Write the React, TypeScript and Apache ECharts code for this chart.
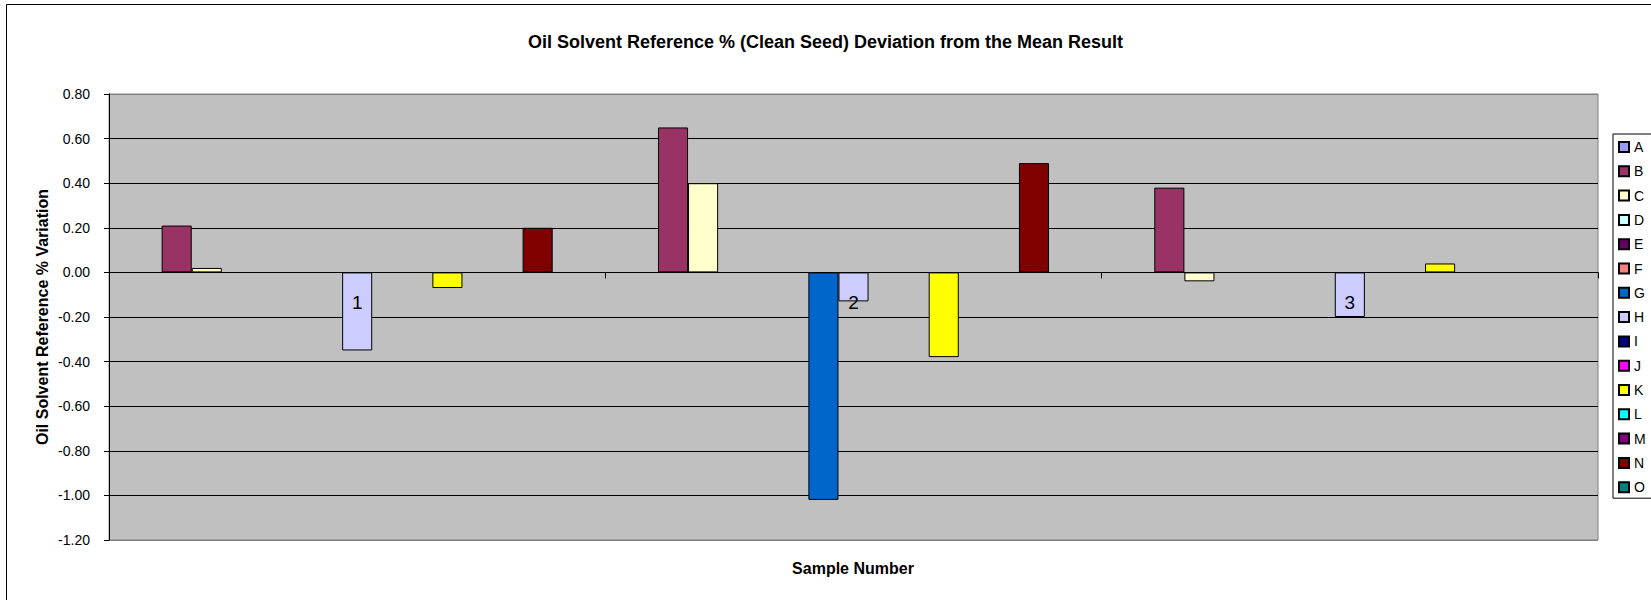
import React, { useEffect, useRef } from 'react';
import * as echarts from 'echarts';

const FONT = '"Liberation Sans", Arial, Helvetica, sans-serif';

const TITLE = 'Oil Solvent Reference % (Clean Seed) Deviation from the Mean Result';
const Y_TITLE = 'Oil Solvent Reference % Variation';
const X_TITLE = 'Sample Number';

const categories = ['1', '2', '3'];

const seriesNames = ['A', 'B', 'C', 'D', 'E', 'F', 'G', 'H', 'I', 'J', 'K', 'L', 'M', 'N', 'O'];
const seriesColors = [
  '#9999FF', '#993366', '#FFFFCC', '#CCFFFF', '#660066', '#FF8080', '#0066CC', '#CCCCFF',
  '#000080', '#FF00FF', '#FFFF00', '#00FFFF', '#800080', '#800000', '#008080',
];

const A: (number | null)[] = [null, null, null];
const B: (number | null)[] = [0.21, 0.65, 0.38];
const C: (number | null)[] = [0.02, 0.40, -0.04];
const D: (number | null)[] = [null, null, null];
const E: (number | null)[] = [null, null, null];
const F: (number | null)[] = [null, null, null];
const G: (number | null)[] = [null, -1.02, null];
const H: (number | null)[] = [-0.35, -0.13, -0.20];
const I: (number | null)[] = [null, null, null];
const J: (number | null)[] = [null, null, null];
const K: (number | null)[] = [-0.07, -0.38, 0.04];
const L: (number | null)[] = [null, null, null];
const M: (number | null)[] = [null, null, null];
const N: (number | null)[] = [0.20, 0.49, null];
const O: (number | null)[] = [null, null, null];

const seriesValues = [A, B, C, D, E, F, G, H, I, J, K, L, M, N, O];

const Y_MIN = -1.2;
const Y_MAX = 0.8;
const Y_STEP = 0.2;

export default function App() {
  const ref = useRef<HTMLDivElement>(null);

  useEffect(() => {
    document.body.style.margin = '0';
    const chart = echarts.init(ref.current!, null, { renderer: 'svg' });

    const splitColors = ['#808080', '#000', '#000', '#000', '#000', '#000', '#000', '#000', '#000', '#000', '#808080'];

    const baseGraphics: any[] = [
      {
        type: 'rect',
        silent: true,
        shape: { x: 6.5, y: 4.5, width: 1700, height: 700 },
        style: { fill: 'none', stroke: '#000', lineWidth: 1 },
      },
      {
        type: 'text',
        silent: true,
        x: 42,
        y: 317,
        rotation: Math.PI / 2,
        style: {
          text: Y_TITLE,
          font: `bold 16px ${FONT}`,
          fill: '#000',
          textAlign: 'center',
          textVerticalAlign: 'middle',
          align: 'center',
          verticalAlign: 'middle',
        },
      },
      {
        type: 'text',
        silent: true,
        x: 853,
        y: 568,
        style: {
          text: X_TITLE,
          font: `bold 16px ${FONT}`,
          fill: '#000',
          textAlign: 'center',
          textVerticalAlign: 'middle',
          align: 'center',
          verticalAlign: 'middle',
        },
      },
    ];

    chart.setOption({
      animation: false,
      backgroundColor: '#ffffff',
      textStyle: { fontFamily: FONT },
      title: {
        text: TITLE,
        left: 'center',
        top: 33,
        padding: 0,
        textStyle: { fontSize: 18, fontWeight: 'bold', color: '#000', fontFamily: FONT },
      },
      grid: {
        left: 109,
        top: 94,
        width: 1489,
        height: 446,
        show: true,
        backgroundColor: '#C0C0C0',
        borderColor: '#808080',
        borderWidth: 1,
        containLabel: false,
      },
      legend: {
        orient: 'vertical',
        left: 1613,
        top: 134,
        padding: [6, 6, 4, 5],
        itemWidth: 10,
        itemHeight: 10,
        itemGap: 10.3,
        icon: 'rect',
        borderColor: '#000',
        borderWidth: 1,
        borderRadius: 0,
        backgroundColor: '#ffffff',
        selectedMode: false,
        textStyle: { fontSize: 14, color: '#000', fontFamily: FONT },
        data: seriesNames,
      },
      xAxis: {
        type: 'category',
        data: categories,
        z: 10,
        axisLine: { show: true, onZero: true, lineStyle: { color: '#000', width: 1 } },
        axisTick: { show: true, length: 6, lineStyle: { color: '#000', width: 1 } },
        axisLabel: { show: false },
        splitLine: { show: false },
      },
      yAxis: {
        type: 'value',
        min: Y_MIN,
        max: Y_MAX,
        interval: Y_STEP,
        axisLine: { show: true, lineStyle: { color: '#000', width: 1 } },
        axisTick: { show: true, length: 5, lineStyle: { color: '#000', width: 1 } },
        axisLabel: {
          fontSize: 14,
          color: '#000',
          margin: 19,
          fontFamily: FONT,
          formatter: (v: number) => (Math.abs(v) < 1e-9 ? '0.00' : v.toFixed(2)),
        },
        splitLine: { show: true, lineStyle: { color: splitColors, width: 1 } },
      },
      series: seriesNames.map((name, i) => ({
        name,
        type: 'bar',
        data: seriesValues[i],
        barGap: '0%',
        barCategoryGap: '9.09%',
        itemStyle: { color: seriesColors[i], borderColor: '#000', borderWidth: 1 },
        emphasis: { disabled: true },
      })),
      graphic: baseGraphics,
    });

    // Category labels sit just under the zero line, placed through the chart's own scales.
    const labelGraphics = categories.map((c) => {
      const p = chart.convertToPixel({ gridIndex: 0 }, [c, 0]) as number[];
      return {
        type: 'text',
        silent: true,
        z: 100,
        x: p[0],
        y: p[1] + 21,
        style: {
          text: c,
          font: `19px ${FONT}`,
          fill: '#000',
          textAlign: 'center',
          textVerticalAlign: 'top',
          align: 'center',
          verticalAlign: 'top',
        },
      };
    });

    chart.setOption({ graphic: [...baseGraphics, ...labelGraphics] });

    return () => chart.dispose();
  }, []);

  return <div ref={ref} style={{ width: 1651, height: 600 }} />;
}
